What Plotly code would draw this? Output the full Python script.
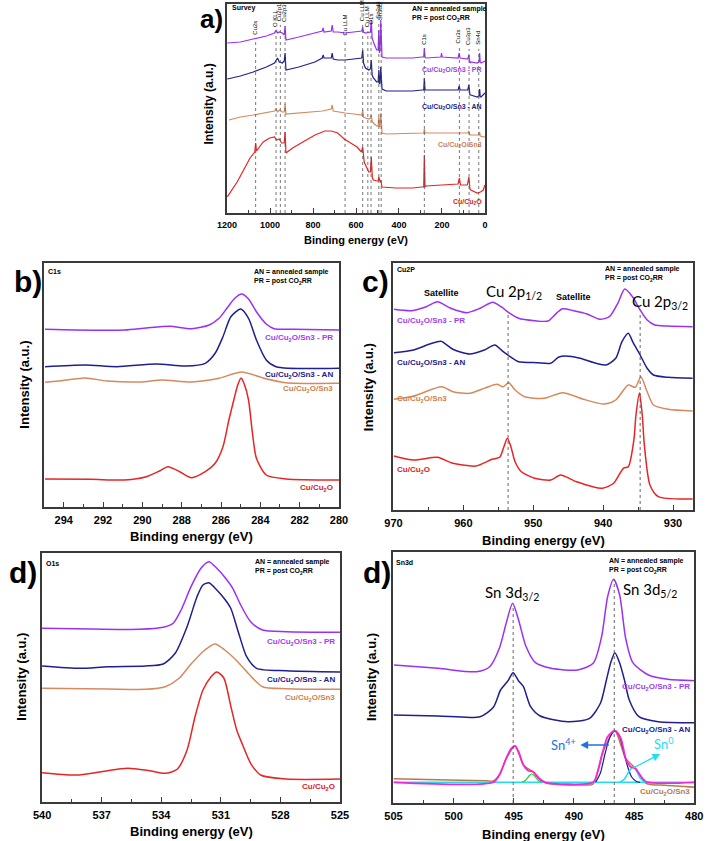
import plotly.graph_objects as go

# ===================== DATA =====================
# ---- (a) Survey ----
A_PR_BE = [1199,1138,1078,1017,979,972,965,957,943,934,930,926,866,791,757,753,749,715,711,706,685,651,610,580,573,569,565,556,541,533,529,525,519,504,497,494,491,488,485,481,479,459,338,293,285,282,279,275,205,202,199,125,120,116,80,75,70,66,36,28,25,22,18,0]
A_PR_I = [170,171,174,177,180,183,180,181,180,178,187,173,176,180,182,185,181,182,188,181,181,180,181,182,182,186,181,180,181,181,193,175,171,163,163,183,160,162,193,160,156,155,155,156,156,165,156,155,156,160,156,155,160,155,154,158,150,151,150,151,160,151,150,152]
A_AN_BE = [1199,1138,1078,1017,979,972,965,957,943,934,930,926,866,791,757,753,749,715,711,706,685,651,610,580,573,569,565,556,541,533,529,525,519,504,497,494,491,488,485,481,479,459,338,293,285,282,279,275,125,120,116,80,75,70,66,36,28,25,22,18,0]
A_AN_I = [134,137,141,146,150,153,155,151,150,152,160,143,146,151,155,158,155,155,160,154,153,153,154,155,155,163,150,145,143,144,153,138,135,131,131,143,129,130,146,126,124,122,122,123,123,135,123,123,123,127,123,123,128,118,118,116,117,124,116,116,120]
A_AS_BE = [1191,1138,1078,1017,979,972,965,957,943,934,930,926,866,791,757,715,711,706,685,651,610,580,573,569,565,556,541,533,529,525,519,504,497,494,491,488,485,481,479,459,293,285,282,279,125,80,75,70,36,28,25,22,0]
A_AS_I = [93,96,98,100,102,104,101,103,101,101,109,99,100,101,102,104,108,102,101,100,99,98,98,103,96,95,94,95,98,92,90,87,87,96,86,87,100,82,80,79,80,80,84,80,80,80,82,78,78,78,81,77,76]
A_CU_BE = [1199,1176,1153,1123,1093,1071,1067,1063,1032,1002,979,969,957,946,934,930,926,895,850,791,745,715,685,655,625,595,575,569,562,541,533,529,524,519,504,497,494,491,487,485,481,479,414,338,293,285,282,279,275,188,125,119,114,82,75,70,66,36,21,8,0]
A_CU_I = [16,23,31,43,55,61,70,62,71,75,76,73,74,70,70,81,60,65,71,78,82,82,80,74,70,66,61,66,51,41,41,56,35,33,32,32,36,32,31,33,27,26,25,25,26,26,58,26,27,28,29,35,28,28,36,24,23,20,21,23,28]
A_PEAK_BE = [1067, 972, 952, 930, 651, 569, 545, 530, 494, 483, 282, 119, 74, 29]
A_PEAK_LABELS = ["Cu2s", "O KLL", "Cu2p1", "Cu2p3", "Cu LLM", "Cu LLM", "Cu LLM", "O1s", "Sn3d3", "Sn3d5", "C1s", "Cu3s", "Cu3p3", "Sn4d"]
A_PEAK_TOP = [176, 184, 190, 189, 175, 190, 184, 186, 192, 191, 166, 168, 166, 166]

# ---- (b) C1s ----
B_PR_BE = [294.95,293.4,290.9,289.8,288.6,287.5,286.6,286.1,285.7,285.3,284.95,284.6,284.2,283.7,283.3,282.3,280.0]
B_PR_I = [177.7,177,177,179,180.7,178.3,182,188.7,198.7,208.7,213,208,195.3,183,178.3,177.7,177]
B_AN_BE = [294.95,292.9,291.3,289.3,287.8,286.8,286.3,285.9,285.5,285.0,284.6,284.2,283.7,283.2,280.0]
B_AN_I = [140.3,142,140.3,143,141,143.7,153.7,170.3,190.3,198,188.7,167,147,140.3,138.7]
B_AS_BE = [294.95,294.1,292.9,291.8,290.1,289.0,287.5,286.1,284.95,283.8,282.7,280.0]
B_AS_I = [124.7,126.3,129,126,125,127,125,128.7,135,128.7,124.3,123.7]
B_CU_BE = [294.95,292.6,290.9,289.8,289.1,288.7,288.1,287.5,286.8,286.3,285.9,285.6,285.35,285.15,284.98,284.8,284.6,284.4,284.2,283.7,282.7,280.0]
B_CU_I = [28,27.7,27,30.3,36.3,40.3,35.3,29.3,35.3,43.7,60.3,87,107,122,129,122,107,73.7,48.7,32,28,27]

# ---- (c) Cu 2p ----
C_PR_BE = [969.95,967.4,965.3,963.7,961.8,959.5,957.6,955.8,954.6,953.5,952.1,949.8,947.9,946.7,945.8,944.2,942.3,940.5,939.1,937.9,936.9,935.8,934.7,933.7,932.6,930.7,927.2]
C_PR_I = [200.7,199.3,203.3,208.3,201.7,197.3,201.7,207.7,203.3,197.3,191.7,189.3,189,196.7,201.3,199.3,196,190.7,193.3,206.7,221,213.3,200,190,185,184,183.3]
C_AN_BE = [969.95,967.1,964.8,963.2,961.5,959.1,957.0,955.5,954.3,953.3,952.1,949.4,947.5,946.4,945.4,943.3,941.0,939.6,938.2,937.3,936.4,935.7,934.7,933.7,932.8,930.7,927.2]
C_AN_I = [157.3,160,166,168.7,160.7,156,160,165,158.3,153.3,148.3,147.3,146.7,152.7,154,151.7,146.7,145,151.7,168.3,176.7,167.3,155,141.7,135,132.7,131.7]
C_AS_BE = [969.95,967.1,963.1,961.5,959.1,956.8,955.2,954.3,953.5,952.6,951.2,948.4,945.8,942.8,939.8,938.2,936.4,935.4,934.6,933.7,932.8,930.7,927.2]
C_AS_I = [110.7,114,123.3,118.3,116.7,122.3,125.7,123.3,127.3,120,113.3,111.7,117.3,110.7,106,110,125,122.7,133.3,118.3,105,100.7,99]
C_CU_BE = [969.95,967.1,963.7,961.5,958.2,955.9,954.8,954.2,953.7,953.2,952.6,951.7,949.8,947.5,946.1,943.8,940.1,938.5,937.1,936.4,935.6,935.3,934.8,934.4,934.1,933.3,932.1,927.2]
C_CU_I = [54,50,52.7,46.7,44,50.7,52.7,63.3,71.7,63.3,48.3,38.3,31.7,30,35,28.3,21.7,26.7,41.7,43.3,70,95,117,95,65,25,13.3,11]
C_LINE_BE = [953.6, 934.7]
C_LINE_TOP = [198, 197]

# ---- (d) O1s ----
D_PR_BE = [540,537.5,535.1,533.9,533.4,533.0,532.5,532.0,531.6,531.2,530.8,530.4,530.0,529.5,528.9,527.7,525]
D_PR_I = [173.7,173,172.7,174.7,178.7,192,215.3,233.7,240.3,233.7,224.7,213.7,197,180.3,172,170.3,169.7]
D_AN_BE = [540,538.1,536.7,534.8,533.9,533.3,532.7,532.2,531.9,531.6,531.2,530.8,530.5,530.1,529.7,529.2,527.7,525]
D_AN_I = [136,133.7,135.3,136,138,148.7,175.3,205.3,217,219.3,212,202.7,193.7,168.7,145.3,133.7,131.3,130]
D_AS_BE = [540,536.7,534.8,533.8,533.1,532.5,531.8,531.3,530.8,530.2,529.5,528.9,527.7,525]
D_AS_I = [113.7,113,112.7,115.3,123.7,138,152,158,152,141.3,126,115.3,113.3,112.7]
D_CU_BE = [540,538.3,537.0,535.7,534.6,533.8,533.2,532.7,532.3,531.9,531.5,531.2,530.85,530.5,530.2,529.9,529.5,529.0,527.7,525]
D_CU_I = [29.3,27,30.3,33.7,31.3,28.7,32.7,52,85.3,112,125,130,124,96,72,57,38.7,27,23,23]

# ---- (e) Sn 3d ----
E_PR_BE = [504.95,501.3,498.1,497.0,496.2,495.6,495.1,494.6,494.0,493.2,491.9,489.7,488.4,487.7,487.2,486.7,486.2,485.7,485.1,483.8,482.2,479.9]
E_PR_I = [138,134.7,131.3,136.3,154.7,181.3,199.7,183,157,140.3,134.7,133,139.7,166.3,206.3,223.7,208,164.7,140.3,128,123.7,122.3]
E_AN_BE = [505,501.3,497.8,496.7,496.1,495.5,495.05,494.6,494.2,493.6,492.8,490.5,488.7,487.8,487.3,486.95,486.6,486.2,485.8,485.4,484.6,483.0,479.9]
E_AN_I = [88,87,86.3,95.7,113,122,130.3,122,116.3,96.3,87,81.3,84.7,99.7,123,140,150.3,140,123,103,86.3,81.3,80.3]
E_AS_BE = [505,501.3,497.3,496.7,496.2,495.6,494.9,494.2,493.4,492.7,491.9,489.2,488.4,487.6,486.6,485.7,484.9,484.0,482.4,479.9]
E_AS_I = [24.3,23.3,22.3,22,28,45,57,38,31,22,19,18,19,51,72,44.7,34.7,19.7,17.7,15.7]
E_FIT_BE = [505,496.7,496.2,495.6,495.2,494.9,494.6,494.2,493.8,493.4,492.9,492.4,488.4,488.0,487.6,487.2,486.6,486.1,485.7,485.3,484.9,484.5,484.0,479.9]
E_FIT_I = [20.7,20.7,28,45.7,54.7,57,51.3,38,32.3,31.3,24.7,20.7,20.7,32.3,51.3,66.3,72.3,64.7,44.7,36.3,34.7,28,21.3,20.7]
E_SN4_BE = [488.2,487.8,487.4,487.0,486.6,486.2,485.8,485.5,485.2,484.8,484.5]
E_SN4_I = [20.7,30,50,66,72,66,48,35,26,21.5,20.7]
E_SN0_BE = [486.2,485.8,485.4,485.1,484.8,484.5,484.1]
E_SN0_I = [20.7,24,32,35.7,32,25,20.7]
E_SN0B_BE = [494.3,494.0,493.7,493.5,493.3,493.0,492.7]
E_SN0B_I = [20.7,23,27.5,29,27.5,23,20.7]
E_BASE_BE = [505, 480]
E_BASE_I = [20.7, 20.7]
E_LINE_BE = [495.05, 486.65]
E_LINE_TOP = [198, 223]

# ===================== STYLE / LAYOUT =====================
W, H = 712, 841
FONT = "Liberation Sans"
PURPLE, NAVY, TAN, RED = "#9B30F5", "#1F1F8F", "#D8895C", "#E82424"
BROWN, MAGENTA, CYAN, GREEN, SNBLUE = "#B87A4A", "#F028D8", "#20E0F0", "#30C830", "#2070E8"
AXC = "#3a3a3a"

# panel frames in pixels: left, right, top, bottom
P = {
    "a": dict(ax="", l=223, r=488, t=4, b=213, xr=[1200, 0], tv=list(range(0, 1201, 200)), md=100, tf=9),
    "b": dict(ax="2", l=35, r=338, t=263, b=507, xr=[295, 280], tv=list(range(280, 295, 2)), md=1, tf=11),
    "c": dict(ax="3", l=394, r=702, t=263, b=510, xr=[970, 927.1], tv=[930, 940, 950, 960, 970], md=5, tf=11),
    "d": dict(ax="4", l=33, r=339, t=553, b=802, xr=[540, 525], tv=[525, 528, 531, 534, 537, 540], md=1.5, tf=11),
    "e": dict(ax="5", l=394, r=703, t=552, b=803, xr=[505, 480], tv=[480, 485, 490, 495, 500, 505], md=2.5, tf=11),
}

fig = go.Figure()
layout = dict(width=W, height=H, margin=dict(l=0, r=0, t=0, b=0),
              paper_bgcolor="white", plot_bgcolor="white", showlegend=False)

for k, p in P.items():
    xa, ya = "xaxis" + p["ax"], "yaxis" + p["ax"]
    layout[xa] = dict(domain=[p["l"] / W, p["r"] / W], range=p["xr"], anchor="y" + p["ax"],
                      showline=True, mirror=True, linecolor=AXC, linewidth=1.5,
                      ticks="inside", ticklen=5, tickwidth=1.2, tickcolor=AXC,
                      tickvals=p["tv"], showgrid=False, zeroline=False,
                      ticklabelstandoff=2,
                      tickfont=dict(family=FONT, size=p["tf"], color="black", weight="bold"),
                      minor=dict(ticks="inside", ticklen=3, tickwidth=1, tickcolor=AXC, dtick=p["md"], showgrid=False))
    layout[ya] = dict(domain=[1 - p["b"] / H, 1 - p["t"] / H], range=[0, p["b"] - p["t"]],
                      anchor="x" + p["ax"], showline=True, mirror=True, linecolor=AXC, linewidth=1.5,
                      ticks="", showticklabels=False, showgrid=False, zeroline=False, fixedrange=True)

def xy(k):
    return ("x" + P[k]["ax"], "y" + P[k]["ax"])

def line(k, xs, ys, color, width=1.5, spline=True):
    xr, yr = xy(k)
    fig.add_trace(go.Scatter(x=xs, y=ys, mode="lines", xaxis=xr, yaxis=yr, hoverinfo="skip",
                             line=dict(color=color, width=width,
                                       shape="spline" if spline else "linear", smoothing=0.7)))

# (a)
line("a", A_CU_BE, A_CU_I, RED, 1.2, False)
line("a", A_AS_BE, A_AS_I, TAN, 1.2, False)
line("a", A_AN_BE, A_AN_I, NAVY, 1.2, False)
line("a", A_PR_BE, A_PR_I, PURPLE, 1.2, False)
# (b)
for xs, ys, c in [(B_CU_BE, B_CU_I, RED), (B_AS_BE, B_AS_I, TAN), (B_AN_BE, B_AN_I, NAVY), (B_PR_BE, B_PR_I, PURPLE)]:
    line("b", xs, ys, c)
# (c)
for xs, ys, c in [(C_CU_BE, C_CU_I, RED), (C_AS_BE, C_AS_I, TAN), (C_AN_BE, C_AN_I, NAVY), (C_PR_BE, C_PR_I, PURPLE)]:
    line("c", xs, ys, c)
# (d)
for xs, ys, c in [(D_CU_BE, D_CU_I, RED), (D_AS_BE, D_AS_I, TAN), (D_AN_BE, D_AN_I, NAVY), (D_PR_BE, D_PR_I, PURPLE)]:
    line("d", xs, ys, c)
# (e)
line("e", E_AS_BE, E_AS_I, BROWN)
line("e", E_BASE_BE, E_BASE_I, CYAN, 1.5, False)
line("e", E_SN0B_BE, E_SN0B_I, GREEN, 1.2)
line("e", E_SN4_BE, E_SN4_I, NAVY, 1.2)
line("e", E_SN0_BE, E_SN0_I, CYAN, 1.5)
line("e", E_FIT_BE, E_FIT_I, MAGENTA, 1.8)
line("e", E_AN_BE, E_AN_I, NAVY)
line("e", E_PR_BE, E_PR_I, PURPLE)

shapes = []
annotations = []

def vdash(k, x, top, width=0.9):
    xr, yr = xy(k)
    shapes.append(dict(type="line", xref=xr, yref=yr, x0=x, x1=x, y0=0, y1=top,
                       line=dict(color="#555555", width=width, dash="dot")))

for be, top in zip(A_PEAK_BE, A_PEAK_TOP):
    vdash("a", be, top - 2, 0.8)
for be, top in zip(C_LINE_BE, C_LINE_TOP):
    vdash("c", be, top)
for be, top in zip(E_LINE_BE, E_LINE_TOP):
    vdash("e", be, top)

for be, lab, top in zip(A_PEAK_BE, A_PEAK_LABELS, A_PEAK_TOP):
    annotations.append(dict(xref="x", yref="y", x=be, y=top, text=lab, showarrow=False,
                            textangle=-90, xanchor="center", yanchor="bottom", xshift=-1,
                            font=dict(family=FONT, size=6, color="black")))

def txt(px, py, text, size, color="black", xa="center", ya="middle", bold=True, angle=0, family=FONT):
    t = "<b>" + text + "</b>" if bold else text
    annotations.append(dict(xref="paper", yref="paper", x=px / W, y=1 - py / H, text=t,
                            showarrow=False, xanchor=xa, yanchor=ya, textangle=angle, align="left",
                            font=dict(family=family, size=size, color=color)))

CU2O = "Cu/Cu<sub>2</sub>O"
LPR, LAN, LAS = CU2O + "/Sn3 - PR", CU2O + "/Sn3 - AN", CU2O + "/Sn3"
LEG = "AN = annealed sample<br>PR = post CO<sub>2</sub>RR"
LPU, LNA, LTA, LRE = "#A040F0", "#202090", "#D08050", "#E02020"

# panel letters
txt(207, 19, "a)", 26)
txt(19, 282, "b)", 30)
txt(376, 282, "c)", 30)
txt(13, 572, "d)", 30)
txt(377, 572, "d)", 30)

# y titles
txt(204, 104, "Intensity (a.u.)", 12, angle=-90)
txt(14, 385, "Intensity (a.u.)", 13, angle=-90)
txt(368, 387, "Intensity (a.u.)", 13, angle=-90)
txt(11, 677, "Intensity (a.u.)", 13, angle=-90)
txt(371, 677, "Intensity (a.u.)", 13, angle=-90)

# x titles
txt(355, 240, "Binding energy (eV)", 11)
txt(186, 536, "Binding energy (eV)", 13)
txt(548, 540, "Binding energy (eV)", 13)
txt(186, 831, "Binding energy (eV)", 13)
txt(548, 834, "Binding energy (eV)", 13)

# panel (a) texts
txt(226, 8, "Survey", 7, xa="left")
txt(411, 14, LEG, 7, xa="left")
txt(487, 70, LPR, 7, LPU, xa="right")
txt(487, 107, LAN, 7, LNA, xa="right")
txt(487, 145, LAS, 7, LTA, xa="right")
txt(487, 202, CU2O, 7, LRE, xa="right")

# panel (b)
txt(37, 271, "C1s", 7, xa="left")
txt(249, 277, LEG, 7, xa="left")
txt(334, 338, LPR, 8, LPU, xa="right")
txt(334, 375, LAN, 8, LNA, xa="right")
txt(334, 389, LAS, 8, LTA, xa="right")
txt(334, 488, CU2O, 8, LRE, xa="right")

# panel (c)
txt(396, 269, "Cu2P", 7, xa="left")
txt(609, 274, LEG, 7, xa="left")
txt(443, 293, "Satellite", 9)
txt(579, 297, "Satellite", 9)
txt(518, 292, "Cu 2p<sub>1/2</sub>", 15, bold=False, family="Lato")
txt(668, 302, "Cu 2p<sub>3/2</sub>", 15, bold=False, family="Lato")
txt(396, 321, LPR, 8, LPU, xa="left")
txt(396, 363, LAN, 8, LNA, xa="left")
txt(396, 399, LAS, 8, LTA, xa="left")
txt(396, 470, CU2O, 8, LRE, xa="left")

# panel (d)
txt(35, 563, "O1s", 7, xa="left")
txt(250, 567, LEG, 7, xa="left")
txt(336, 642, LPR, 8, LPU, xa="right")
txt(336, 680, LAN, 8, LNA, xa="right")
txt(336, 698, LAS, 8, LTA, xa="right")
txt(336, 787, CU2O, 8, LRE, xa="right")

# panel (e)
txt(395, 562, "Sn3d", 7, xa="left")
txt(613, 566, LEG, 7, xa="left")
txt(516, 593, "Sn 3d<sub>3/2</sub>", 15, bold=False, family="Lato")
txt(658, 590, "Sn 3d<sub>5/2</sub>", 15, bold=False, family="Lato")
txt(701, 687, LPR, 8, LPU, xa="right")
txt(701, 730, LAN, 8, LNA, xa="right")
txt(701, 792, LAS, 8, BROWN, xa="right")
txt(569, 744, "Sn<sup>4+</sup>", 13, SNBLUE, bold=False, family="Lato")
txt(671, 743, "Sn<sup>0</sup>", 13, CYAN, bold=False, family="Lato")

# arrows (head at x,y; tail offset ax,ay in px)
annotations.append(dict(xref="paper", yref="paper", x=586 / W, y=1 - 745 / H, ax=30, ay=0,
                        axref="pixel", ayref="pixel", text="", showarrow=True, arrowhead=2,
                        arrowsize=1.2, arrowwidth=1.3, arrowcolor=SNBLUE))
annotations.append(dict(xref="paper", yref="paper", x=668 / W, y=1 - 754 / H, ax=-29, ay=15,
                        axref="pixel", ayref="pixel", text="", showarrow=True, arrowhead=2,
                        arrowsize=1.2, arrowwidth=1.3, arrowcolor=CYAN))

layout["shapes"] = shapes
layout["annotations"] = annotations
fig.update_layout(**layout)
fig.write_html("out.html")
